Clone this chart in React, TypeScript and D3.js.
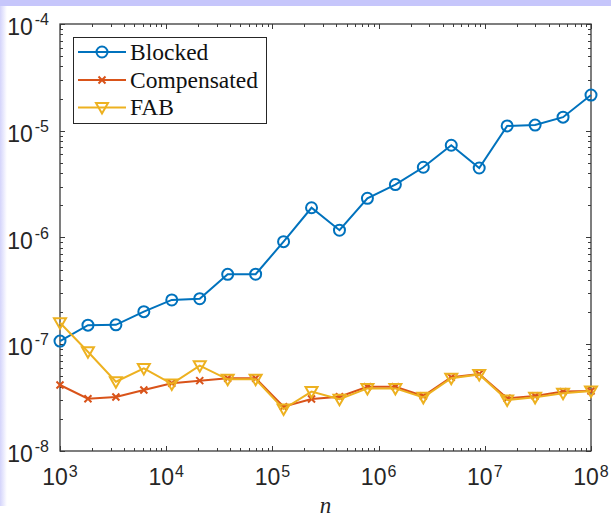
import React, { useEffect, useRef } from 'react';
import * as d3 from 'd3';

// problem sizes n (20 points, log-spaced between 1e3 and 1e8)
const sizes = [
  1000, 1833, 3360, 6158, 11288, 20691, 37927, 69519, 127427, 233572,
  428133, 784760, 1438450, 2636651, 4832930, 8858668, 16237767, 29763514, 54555948, 100000000,
];

const blocked = [
  1.07e-7, 1.51e-7, 1.52e-7, 2.02e-7, 2.6e-7, 2.67e-7, 4.52e-7, 4.53e-7, 9.14e-7, 1.9e-6,
  1.17e-6, 2.33e-6, 3.13e-6, 4.55e-6, 7.31e-6, 4.48e-6, 1.11e-5, 1.13e-5, 1.34e-5, 2.16e-5,
];

const compensated = [
  4.15e-8, 3.09e-8, 3.2e-8, 3.73e-8, 4.31e-8, 4.56e-8, 4.8e-8, 4.8e-8, 2.6e-8, 3.07e-8,
  3.23e-8, 4.0e-8, 4.0e-8, 3.27e-8, 4.9e-8, 5.26e-8, 3.12e-8, 3.27e-8, 3.6e-8, 3.65e-8,
];

const fab = [
  1.59e-7, 8.5e-8, 4.46e-8, 5.94e-8, 4.25e-8, 6.3e-8, 4.69e-8, 4.69e-8, 2.47e-8, 3.6e-8,
  3.05e-8, 3.86e-8, 3.86e-8, 3.18e-8, 4.8e-8, 5.22e-8, 3.0e-8, 3.18e-8, 3.47e-8, 3.65e-8,
];

const xExponents = [3, 4, 5, 6, 7, 8];
const yExponents = [-8, -7, -6, -5, -4];
const seriesNames = ['Blocked', 'Compensated', 'FAB'];

const Chart = () => {
  const ref = useRef<SVGSVGElement | null>(null);

  useEffect(() => {
    const svg = d3.select(ref.current);
    svg.selectAll('*').remove();

    const W = 611;
    const H = 517;
    const left = 60, right = 591, top = 24, bottom = 451;
    const axisColor = '#3a3a3a';

    // background + lavender frame
    svg.append('rect').attr('width', W).attr('height', H).attr('fill', '#fff');
    const grad = svg.append('defs').append('linearGradient').attr('id', 'lg').attr('x1', 0).attr('x2', 1);
    grad.append('stop').attr('offset', 0).attr('stop-color', '#d4d4fb');
    grad.append('stop').attr('offset', 1).attr('stop-color', '#ffffff');
    svg.append('rect').attr('x', 0).attr('y', 6).attr('width', 7).attr('height', 500).attr('fill', 'url(#lg)');
    svg.append('rect').attr('x', 0).attr('y', 0).attr('width', W).attr('height', 6).attr('fill', '#c6c6fb');

    const x = d3.scaleLog().domain([1e3, 1e8]).range([left, right]);
    const y = d3.scaleLog().domain([1e-8, 1e-4]).range([bottom, top]);

    const g = svg.append('g');

    // ticks (inside, all four sides)
    const xMinor: number[] = [];
    xExponents.slice(0, -1).forEach(e => {
      for (let m = 2; m <= 9; m++) xMinor.push(m * Math.pow(10, e));
    });
    const yMinor: number[] = [];
    yExponents.slice(0, -1).forEach(e => {
      for (let m = 2; m <= 9; m++) yMinor.push(m * Math.pow(10, e));
    });
    const xMajor = xExponents.map(e => Math.pow(10, e));
    const yMajor = yExponents.map(e => Math.pow(10, e));

    const tickG = g.append('g').attr('stroke', axisColor).attr('stroke-width', 1);
    [[xMajor, 5], [xMinor, 3]].forEach(([vals, len]: any) => {
      vals.forEach((v: number) => {
        const px = Math.round(x(v)) + 0.5;
        tickG.append('line').attr('x1', px).attr('x2', px).attr('y1', bottom).attr('y2', bottom - len);
        tickG.append('line').attr('x1', px).attr('x2', px).attr('y1', top).attr('y2', top + len);
      });
    });
    [[yMajor, 5], [yMinor, 3]].forEach(([vals, len]: any) => {
      vals.forEach((v: number) => {
        const py = Math.round(y(v)) + 0.5;
        tickG.append('line').attr('y1', py).attr('y2', py).attr('x1', left).attr('x2', left + len);
        tickG.append('line').attr('y1', py).attr('y2', py).attr('x1', right).attr('x2', right - len);
      });
    });

    // axis box
    g.append('rect')
      .attr('x', left).attr('y', top)
      .attr('width', right - left).attr('height', bottom - top)
      .attr('fill', 'none').attr('stroke', axisColor).attr('stroke-width', 1.3);

    // tick labels
    const font = '"Liberation Sans", Arial, sans-serif';
    xExponents.forEach(e => {
      const t = g.append('text')
        .attr('x', x(Math.pow(10, e)))
        .attr('y', 485)
        .attr('text-anchor', 'middle')
        .style('font-family', font)
        .style('font-size', '23px')
        .attr('fill', '#262626');
      t.append('tspan').text('10');
      t.append('tspan').attr('dx', 1).attr('dy', -8.5).style('font-size', '16px').text(String(e));
    });
    yExponents.forEach(e => {
      const t = g.append('text')
        .attr('x', 49)
        .attr('y', y(Math.pow(10, e)) + 11)
        .attr('text-anchor', 'end')
        .style('font-family', font)
        .style('font-size', '23px')
        .attr('fill', '#262626');
      t.append('tspan').text('10');
      t.append('tspan').attr('dx', 2).attr('dy', -10).style('font-size', '16px').text(String(e));
    });

    // x label
    g.append('text')
      .attr('x', (left + right) / 2)
      .attr('y', 513)
      .attr('text-anchor', 'middle')
      .style('font-family', '"Liberation Serif", "Times New Roman", serif')
      .style('font-style', 'italic')
      .style('font-size', '23px')
      .attr('fill', '#262626')
      .text('n');

    const colors = ['#0072BD', '#D95319', '#EDB120'];
    const allSeries = [blocked, compensated, fab];

    const line = d3.line<number>()
      .x((d, i) => x(sizes[i]))
      .y(d => y(d));

    const drawMarker = (sel: any, kind: number, color: string) => {
      if (kind === 0) {
        sel.append('circle').attr('r', 5.5).attr('fill', 'none').attr('stroke', color).attr('stroke-width', 2);
      } else if (kind === 1) {
        sel.append('path').attr('d', 'M-3.5,-3.5L3.5,3.5M-3.5,3.5L3.5,-3.5')
          .attr('stroke', color).attr('stroke-width', 2).attr('fill', 'none');
      } else {
        sel.append('path').attr('d', 'M-6,-4.5L6,-4.5L0,6Z')
          .attr('stroke', color).attr('stroke-width', 2).attr('fill', 'none').attr('stroke-linejoin', 'miter');
      }
    };

    allSeries.forEach((vals, si) => {
      const sg = g.append('g');
      sg.append('path')
        .datum(vals)
        .attr('fill', 'none')
        .attr('stroke', colors[si])
        .attr('stroke-width', 2)
        .attr('d', line);
      vals.forEach((v, i) => {
        const m = sg.append('g').attr('transform', `translate(${x(sizes[i])},${y(v)})`);
        drawMarker(m, si, colors[si]);
      });
    });

    // legend
    const lg = g.append('g');
    lg.append('rect')
      .attr('x', 73.5).attr('y', 37.5).attr('width', 193).attr('height', 86)
      .attr('fill', '#fff').attr('stroke', '#262626').attr('stroke-width', 1);
    const rowsY = [52, 80, 107.5];
    seriesNames.forEach((name, i) => {
      lg.append('line')
        .attr('x1', 78).attr('x2', 126)
        .attr('y1', rowsY[i]).attr('y2', rowsY[i])
        .attr('stroke', colors[i]).attr('stroke-width', 2);
      const m = lg.append('g').attr('transform', `translate(102,${rowsY[i]})`);
      drawMarker(m, i, colors[i]);
      lg.append('text')
        .attr('x', 130)
        .attr('y', rowsY[i] + 7.5)
        .style('font-family', '"Liberation Serif", "Times New Roman", serif')
        .style('font-size', '23.5px')
        .attr('fill', '#111')
        .text(name);
    });
  }, []);

  return <svg ref={ref} width={611} height={517} style={{ display: 'block' }} />;
};

export default function App() {
  return (
    <div style={{ position: 'absolute', top: 0, left: 0 }}>
      <Chart />
    </div>
  );
}
